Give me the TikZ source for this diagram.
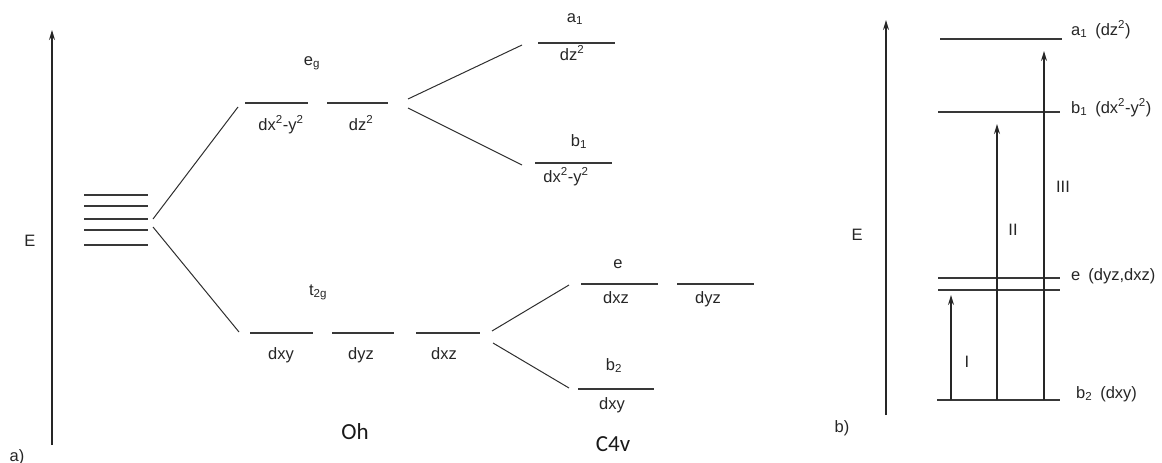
\documentclass[tikz,border=0pt]{standalone}
\usepackage{fontspec}
\setmainfont{Liberation Sans}
\newfontfamily\calib{Carlito}
\usetikzlibrary{arrows.meta}
\begin{document}
\begin{tikzpicture}[x=1pt,y=-1pt,
  lvl/.style={draw=black!78,line width=1.6pt},
  conn/.style={draw=black!82,line width=1pt},
  axis/.style={draw=black!85,line width=1.4pt,-{Stealth[length=10pt,width=6pt]}},
  trans/.style={draw=black!85,line width=1.3pt,-{Stealth[length=10pt,width=6pt]}},
  lab/.style={font=\fontsize{16.5}{19}\selectfont,inner sep=0pt,text=black!85},
  grp/.style={font=\calib\fontsize{23}{27}\selectfont,inner sep=0pt,text=black!90},
  pt/.style={inner sep=0pt,minimum size=0pt}]
\useasboundingbox (0,0) rectangle (1162,463);
% ---------- panel a ----------
\coordinate (axAb) at (52,445);
\coordinate (axAt) at (52,30);
\draw[axis] (axAb) -- (axAt);
\node[lab] (EA) at (30,241) {E};
\node[lab,anchor=base] (pa) at (17,461) {a)};
% degenerate levels
\foreach \i/\y in {1/195,2/206,3/219,4/230,5/245}{
  \coordinate (fl\i) at (84,\y);
  \coordinate (fr\i) at (148,\y);
  \draw[lvl,line width=1.7pt] (fl\i) -- (fr\i);
}
\coordinate (splitU) at (153,219);
\coordinate (splitD) at (153,227);
% eg
\coordinate (eg1l) at (245,103); \coordinate (eg1r) at (308,103);
\coordinate (eg2l) at (327,103); \coordinate (eg2r) at (388,103);
\draw[lvl] (eg1l) -- (eg1r);
\draw[lvl] (eg2l) -- (eg2r);
\node[lab,anchor=base] (eglab) at (312,65) {e\textsubscript{g}};
\node[lab,anchor=base] (egA) at (281,130) {dx\textsuperscript{2}-y\textsuperscript{2}};
\node[lab,anchor=base] (egB) at (361,130) {dz\textsuperscript{2}};
% t2g
\coordinate (t1l) at (250,333); \coordinate (t1r) at (313,333);
\coordinate (t2l) at (332,333); \coordinate (t2r) at (394,333);
\coordinate (t3l) at (416,333); \coordinate (t3r) at (480,333);
\draw[lvl] (t1l) -- (t1r);
\draw[lvl] (t2l) -- (t2r);
\draw[lvl] (t3l) -- (t3r);
\node[lab,anchor=base] (tlab) at (318,295) {t\textsubscript{2g}};
\node[lab,anchor=base] (tA) at (281,359) {dxy};
\node[lab,anchor=base] (tB) at (361,359) {dyz};
\node[lab,anchor=base] (tC) at (444,359) {dxz};
\coordinate (egIn) at (238,107);
\coordinate (tIn) at (239,332);
\draw[conn] (splitU) -- (egIn);
\draw[conn] (splitD) -- (tIn);
\node[grp,anchor=base] (Oh) at (355,439) {Oh};
% C4v splitting of eg
\coordinate (egOutU) at (408,99);
\coordinate (egOutD) at (408,108);
\coordinate (a1In) at (522,45);
\coordinate (b1In) at (522,165);
\draw[conn] (egOutU) -- (a1In);
\draw[conn] (egOutD) -- (b1In);
\coordinate (a1l) at (538,43); \coordinate (a1r) at (615,43);
\draw[lvl] (a1l) -- (a1r);
\node[lab,anchor=base] (a1lab) at (575,22) {a\textsubscript{1}};
\node[lab,anchor=base] (a1orb) at (572,60) {dz\textsuperscript{2}};
\coordinate (b1l) at (535,163); \coordinate (b1r) at (612,163);
\draw[lvl] (b1l) -- (b1r);
\node[lab,anchor=base] (b1lab) at (579,146) {b\textsubscript{1}};
\node[lab,anchor=base] (b1orb) at (566,182) {dx\textsuperscript{2}-y\textsuperscript{2}};
% C4v splitting of t2g
\coordinate (tOutU) at (492,331);
\coordinate (tOutD) at (493,343);
\coordinate (eIn) at (569,285);
\coordinate (b2In) at (569,388);
\draw[conn] (tOutU) -- (eIn);
\draw[conn] (tOutD) -- (b2In);
\coordinate (e1l) at (581,284); \coordinate (e1r) at (658,284);
\coordinate (e2l) at (677,284); \coordinate (e2r) at (754,284);
\draw[lvl] (e1l) -- (e1r);
\draw[lvl] (e2l) -- (e2r);
\node[lab,anchor=base] (elab) at (618,268) {e};
\node[lab,anchor=base] (eA) at (616,303) {dxz};
\node[lab,anchor=base] (eB) at (708,303) {dyz};
\coordinate (b2l) at (578,389); \coordinate (b2r) at (654,389);
\draw[lvl] (b2l) -- (b2r);
\node[lab,anchor=base] (b2lab) at (614,370) {b\textsubscript{2}};
\node[lab,anchor=base] (b2orb) at (612,409) {dxy};
\node[grp,anchor=base] (C4v) at (613,451) {C4v};
% ---------- panel b ----------
\coordinate (axBb) at (886,415);
\coordinate (axBt) at (886,20);
\draw[axis] (axBb) -- (axBt);
\node[lab] (EB) at (857,235) {E};
\node[lab] (pb) at (842,428) {b)};
\coordinate (ra1l) at (940,39); \coordinate (ra1r) at (1062,39);
\coordinate (rb1l) at (938,112); \coordinate (rb1r) at (1060,112);
\coordinate (re1l) at (938,278); \coordinate (re1r) at (1060,278);
\coordinate (re2l) at (938,290); \coordinate (re2r) at (1060,290);
\coordinate (rb2l) at (937,400); \coordinate (rb2r) at (1060,400);
\draw[lvl] (ra1l) -- (ra1r);
\draw[lvl] (rb1l) -- (rb1r);
\draw[lvl] (re1l) -- (re1r);
\draw[lvl] (re2l) -- (re2r);
\draw[lvl] (rb2l) -- (rb2r);
\node[lab,anchor=base west] (ra1t) at (1071,35) {a\textsubscript{1}\hspace{8pt}(dz\textsuperscript{2})};
\node[lab,anchor=base west] (rb1t) at (1071,113) {b\textsubscript{1}\hspace{8pt}(dx\textsuperscript{2}-y\textsuperscript{2})};
\node[lab,anchor=base west] (ret) at (1071,280) {e\hspace{8pt}(dyz,dxz)};
\node[lab,anchor=base west] (rb2t) at (1076,398) {b\textsubscript{2}\hspace{8pt}(dxy)};
% transitions
\coordinate (I0) at (951,400);  \coordinate (I1) at (951,295);
\coordinate (II0) at (997,400); \coordinate (II1) at (997,124);
\coordinate (III0) at (1044,400); \coordinate (III1) at (1044,51);
\draw[trans] (I0) -- (I1);
\draw[trans] (II0) -- (II1);
\draw[trans] (III0) -- (III1);
\node[lab] (tI) at (967,362) {I};
\node[lab] (tII) at (1013,230) {II};
\node[lab] (tIII) at (1063,187) {III};
\end{tikzpicture}
\end{document}
